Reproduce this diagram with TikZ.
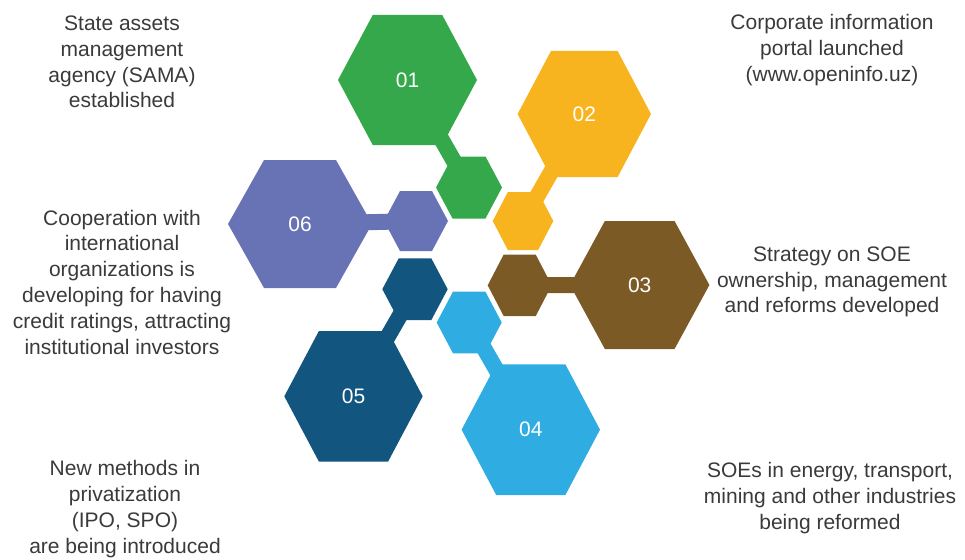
\documentclass[tikz,border=0pt]{standalone}
\usepackage{fontspec}
\setmainfont{Liberation Sans}

\definecolor{armgreen}{HTML}{34A84A}
\definecolor{armyellow}{HTML}{F8B41E}
\definecolor{armbrown}{HTML}{7B5A26}
\definecolor{armsky}{HTML}{2FACE2}
\definecolor{armnavy}{HTML}{12557F}
\definecolor{armviolet}{HTML}{6773B5}
\definecolor{captiongray}{HTML}{3A3A3A}

% flat-topped hexagon: centre, x radius, y radius, colour
\newcommand{\hexat}[4]{%
  \fill[#4] (#1) ++(-#2,0) -- ++(#2/2,-#3) -- ++(#2,0) -- ++(#2/2,#3)
    -- ++(-#2/2,#3) -- ++(-#2,0) -- cycle;}

\tikzset{
  armbar/.style={line width=16pt, draw=#1},
  numlabel/.style={text=white, font=\fontsize{21}{21}\selectfont},
  desc/.style={align=center, text=captiongray, font=\fontsize{21}{25.8}\selectfont},
}

\begin{document}
\begin{tikzpicture}[x=1pt, y=-1pt]
        \useasboundingbox (0,0) rectangle (965,559);

        % one arm: small hexagon, bar, big hexagon
        \foreach \idx/\c/\bx/\by/\brx/\bry/\sx/\sy/\srx/\sry in {
            01/armgreen/407.5/80/69.5/65/469/187.5/33/31,
            02/armyellow/584.3/114/66.7/63/523/221/30.3/29,
            03/armbrown/639.7/285/69.7/64/519.7/285.3/32/30.8,
            04/armsky/530.8/429.7/69.2/65.3/469.2/322.5/32.5/30.8,
            05/armnavy/353.5/396.3/69.2/65.3/415/289.2/32.7/30.8,
            06/armviolet/300/224/72/64/416/221/32/30} {
            \coordinate (big\idx) at (\bx,\by);
            \coordinate (small\idx) at (\sx,\sy);
            \draw[armbar=\c] (small\idx) -- (big\idx);
            \hexat{small\idx}{\srx}{\sry}{\c}
            \hexat{big\idx}{\brx}{\bry}{\c}
            \node[numlabel] (num\idx) at (big\idx) {\idx};
        }

        \node[desc] (text01) at (122,62) {State assets\\management\\agency (SAMA)\\established};
        \node[desc] (text02) at (832,50) {Corporate information\\portal launched\\(www.openinfo.uz)};
        \node[desc] (text03) at (832,282) {Strategy on SOE\\ownership, management\\and reforms developed};
        \node[desc] (text04) at (830,498) {SOEs in energy, transport,\\mining and other industries\\being reformed};
        \node[desc] (text05) at (125,509) {New methods in\\privatization\\(IPO, SPO)\\are being introduced};
        \node[desc] (text06) at (122,282) {Cooperation with\\international\\organizations is\\developing for having\\credit ratings, attracting\\institutional investors};
    \end{tikzpicture}
\end{document}
